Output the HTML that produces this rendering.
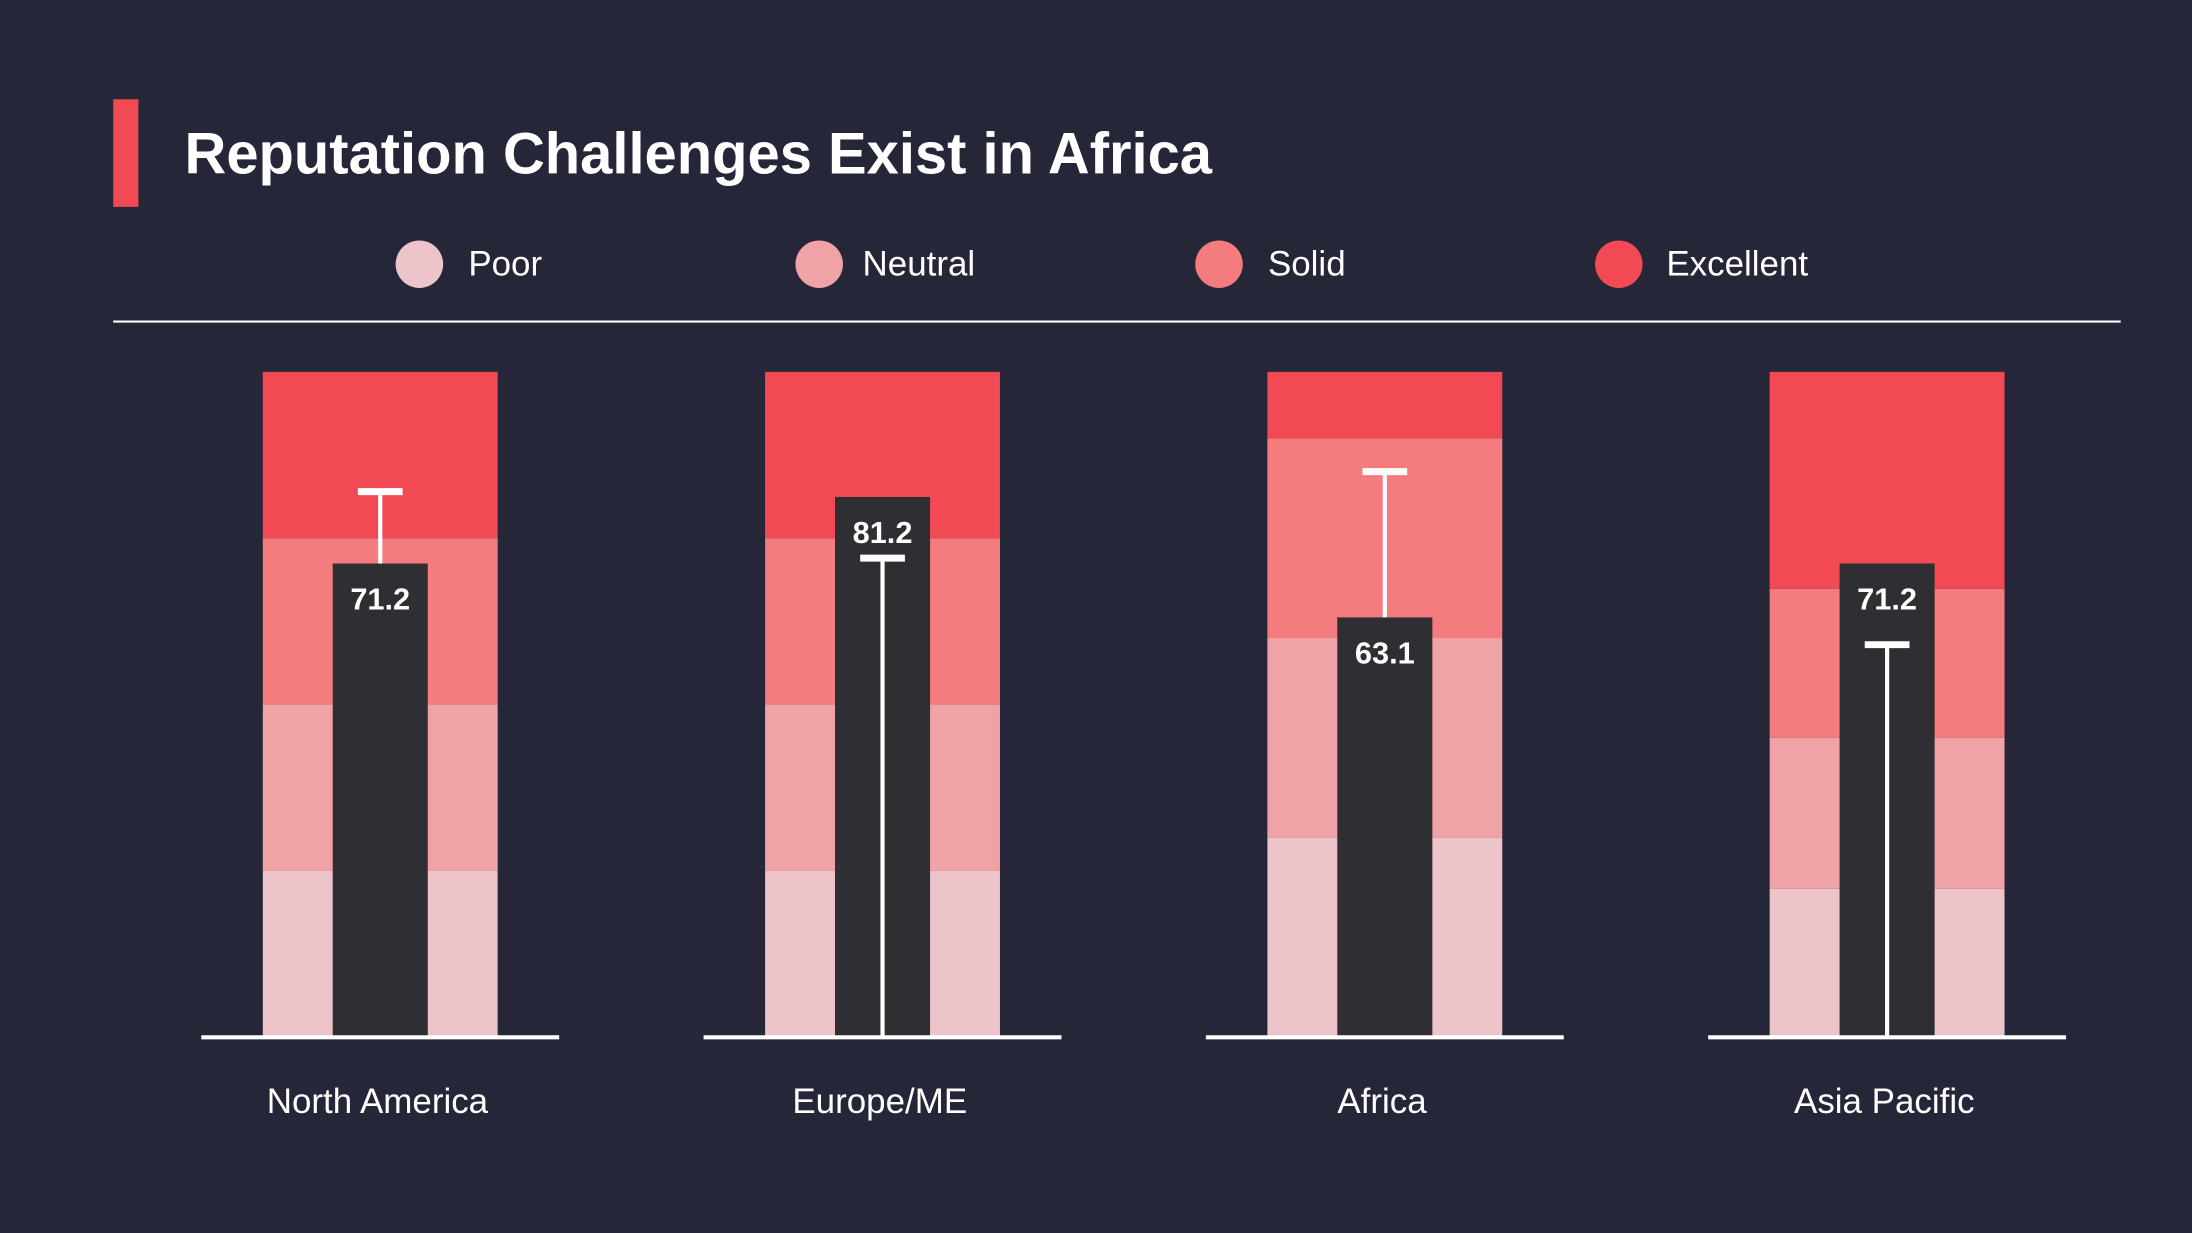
<!DOCTYPE html>
<html><head><meta charset="utf-8"><style>
html,body{margin:0;padding:0;background:#262639;}
svg{display:block;font-family:"Liberation Sans",sans-serif;}
</style></head><body>
<svg id="chart" width="2192" height="1233" viewBox="0 0 1568 882" xmlns="http://www.w3.org/2000/svg">
<rect width="1568" height="882" fill="#262639"/>
<rect x="81" y="71" width="18" height="77" fill="#f24a55"/>
<text x="132" y="124" fill="#fff" font-size="42" font-weight="bold" textLength="735" lengthAdjust="spacingAndGlyphs">Reputation Challenges Exist in Africa</text>
<g>
<g><circle cx="300" cy="189" r="17" fill="#ecc4c9"/><text x="335" y="197" fill="#fff" font-size="25">Poor</text></g>
<g><circle cx="586" cy="189" r="17" fill="#f0a3a7"/><text x="617" y="197" fill="#fff" font-size="25">Neutral</text></g>
<g><circle cx="872" cy="189" r="17" fill="#f47c7e"/><text x="907" y="197" fill="#fff" font-size="25">Solid</text></g>
<g><circle cx="1158" cy="189" r="17" fill="#f24a55"/><text x="1192" y="197" fill="#fff" font-size="25">Excellent</text></g>
</g>
<line x1="81" y1="230" x2="1517" y2="230" stroke="#fff" stroke-width="1.5"/>
<g id="plot"></g>
</svg>
<script>
const categories = ["North America","Europe/ME","Africa","Asia Pacific"];
const poorBand = [25,25,30,22.3];
const neutralBand = [50,50,60,45];
const solidBand = [75,75,90,67.4];
const maxBand = [100,100,100,100];
const values = [71.2,81.2,63.1,71.2];
const targets = [82,72,85,59];

const NS="http://www.w3.org/2000/svg";
const g=document.getElementById('plot');
const baseY=742, topY=266, H=baseY-topY;
const y=v=>baseY-v/100*H;
const cx=i=>272+i*359.3;
const bandColors=["#ecc4c9","#f0a3a7","#f47c7e","#f24a55"];
const bandNames=["poor","neutral","solid","excellent"];
function el(t,a){const e=document.createElementNS(NS,t);for(const k in a)e.setAttribute(k,a[k]);g.appendChild(e);return e;}
categories.forEach((c,i)=>{
  const x=cx(i);
  const bounds=[0,poorBand[i],neutralBand[i],solidBand[i],maxBand[i]];
  for(let b=0;b<4;b++){
    const r=el('rect',{x:x-84,y:y(bounds[b+1]),width:168,height:y(bounds[b])-y(bounds[b+1]),fill:bandColors[b]});
    
    
  }
  const bar=el('rect',{x:x-34,y:y(values[i]),width:68,height:baseY-y(values[i]),fill:'#2f2f33'});
  
  
  const ty=y(targets[i]);
  const y2=targets[i]>values[i]?y(values[i]):baseY;
  const ln=el('line',{x1:x,y1:ty,x2:x,y2:y2,stroke:'#fff','stroke-width':3});
  
  
  const cap=el('line',{x1:x-16,y1:ty,x2:x+16,y2:ty,stroke:'#fff','stroke-width':5});
  
  
  const t=el('text',{x:x,y:y(values[i])+33,fill:'#fff','font-size':22,'font-weight':'bold','text-anchor':'middle'});
  t.textContent=values[i].toFixed(1);
  
  
  const bl=el('line',{x1:x-128,y1:baseY,x2:x+128,y2:baseY,stroke:'#fff','stroke-width':3});
  
  
  const cl=el('text',{x:x-2,y:796,fill:'#fff','font-size':25,'text-anchor':'middle'});
  cl.textContent=c;
  
  
});
</script>
</body></html>
